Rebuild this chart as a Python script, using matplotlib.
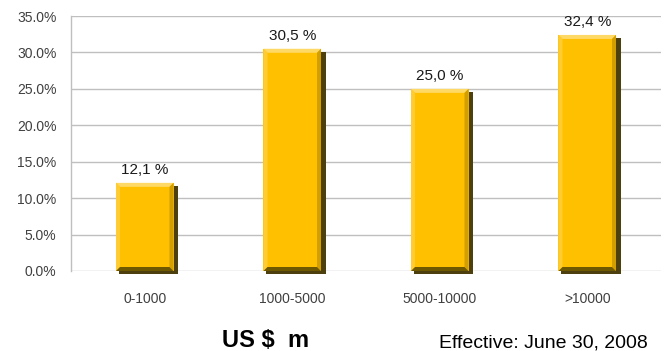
import matplotlib
matplotlib.use("Agg")
import matplotlib.pyplot as plt
from matplotlib.patches import Polygon

categories = ["0-1000", "1000-5000", "5000-10000", ">10000"]
values = [12.1, 30.5, 25.0, 32.4]
value_labels = ["12,1 %", "30,5 %", "25,0 %", "32,4 %"]
yticks = [0, 5, 10, 15, 20, 25, 30, 35]
ytick_labels = ["0.0%", "5.0%", "10.0%", "15.0%", "20.0%", "25.0%", "30.0%", "35.0%"]

W, H = 670, 351
fig = plt.figure(figsize=(W / 100, H / 100), dpi=100)
left, right, top, bottom = 71, 661, 16, 271
ax = fig.add_axes([left / W, 1 - bottom / H, (right - left) / W, (bottom - top) / H])

ax.set_xlim(-0.5, 3.5)
ax.set_ylim(0, 35)

# pixel -> data conversion
px_x = 4.0 / (right - left)
px_y = 35.0 / (bottom - top)

bw = 0.39
b = 4
x = list(range(len(categories)))

for xi, v in zip(x, values):
    x0, x1 = xi - bw / 2, xi + bw / 2
    shadow = Polygon([(x0 + 3 * px_x, -3 * px_y), (x1 + 4.5 * px_x, -3 * px_y),
                      (x1 + 4.5 * px_x, v - 3 * px_y), (x0 + 3 * px_x, v - 3 * px_y)],
                     closed=True, facecolor="#4d400e", edgecolor="none", zorder=2, clip_on=False)
    ax.add_patch(shadow)

bars = ax.bar(x, values, width=bw, color="#FFC000", zorder=3)

for xi, v in zip(x, values):
    x0, x1 = xi - bw / 2, xi + bw / 2
    bx, by = b * px_x, b * px_y
    polys = [
        ([(x0, v), (x1, v), (x1 - bx, v - by), (x0 + bx, v - by)], "#FFD966"),
        ([(x0, 0), (x0, v), (x0 + bx, v - by), (x0 + bx, by)], "#FFCD33"),
        ([(x1, 0), (x1, v), (x1 - bx, v - by), (x1 - bx, by)], "#D39E00"),
        ([(x0, 0), (x1, 0), (x1 - bx, by), (x0 + bx, by)], "#6e5800"),
    ]
    for pts, col in polys:
        ax.add_patch(Polygon(pts, closed=True, facecolor=col, edgecolor="none", zorder=4, clip_on=False))

for xi, v, lab in zip(x, values, value_labels):
    ax.text(xi, v + 6 * px_y, lab, ha="center", va="bottom", fontsize=11,
            family="Liberation Sans", color="#1a1a1a", zorder=5)

ax.set_yticks(yticks)
ax.set_yticklabels(ytick_labels, family="Liberation Sans", fontsize=10, color="#404040")
ax.set_xticks(x)
ax.set_xticklabels(categories, family="Liberation Sans", fontsize=10, color="#404040")
ax.tick_params(axis="y", length=0, pad=10.5)
ax.tick_params(axis="x", length=0, pad=15)

ax.yaxis.grid(True, color="#bfbfbf", linewidth=1.0, zorder=0)
ax.set_axisbelow(True)
for s in ["top", "right", "bottom"]:
    ax.spines[s].set_visible(False)
ax.spines["left"].set_color("#bfbfbf")
ax.spines["left"].set_linewidth(1.0)

fig.text(222 / W, 1 - 347 / H, "US $  m", fontsize=17, fontweight="bold",
         family="Liberation Sans", ha="left", va="baseline", color="black")
fig.text(439 / W, 1 - 348 / H, "Effective: June 30, 2008", fontsize=14,
         family="Liberation Sans", ha="left", va="baseline", color="black")

fig.savefig("out.png", dpi=100)
